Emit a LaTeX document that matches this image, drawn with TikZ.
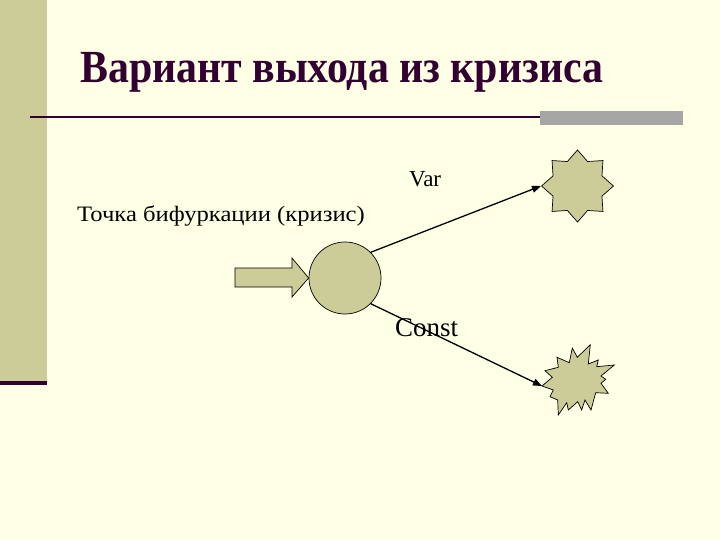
\documentclass[tikz,border=0pt]{standalone}
\usepackage{fontspec}
\setmainfont{Liberation Serif}
\newfontfamily\titlefont[FakeStretch=0.91]{Liberation Serif}
\newfontfamily\widefont[FakeStretch=1.12]{Liberation Serif}
\usetikzlibrary{shapes.geometric,arrows.meta}
\definecolor{slidebg}{RGB}{255,255,229}
\definecolor{khaki}{RGB}{204,204,153}
\definecolor{plum}{RGB}{51,0,51}
\definecolor{bargray}{RGB}{166,166,166}

\begin{document}
\begin{tikzpicture}[
  x=1pt, y=-1pt,
  solid shape/.style={fill=khaki, draw=black, line width=0.7pt},
  branch/.style={-{Triangle[length=9pt,width=7pt]}, line width=1.3pt},
  caption/.style={inner sep=0pt, anchor=base west},
]
  \useasboundingbox (0,0) rectangle (720,540);
  \fill[slidebg] (0,0) rectangle (720,540);

  % Left band
  \fill[khaki] (0,0) rectangle (47,381);
  \fill[plum] (0,381) rectangle (47,385);

  % Title and rule
  \node[caption, text=plum, font=\titlefont\bfseries\fontsize{46}{50}\selectfont]
    (title) at (80,83) {Вариант выхода из кризиса};
  \draw[plum, line width=2pt] (30,117) -- (540,117);
  \fill[bargray] (540,111) rectangle (683,125);

  % Crisis point
  \node[caption, font=\widefont\fontsize{22}{26}\selectfont]
    (bifurcation) at (77,222) {Точка бифуркации (кризис)};
  \node[solid shape, circle, minimum size=72pt, inner sep=0pt]
    (crisis) at (345,278) {};
  \draw[solid shape] (235,268) -- (292,268) -- (292,258) -- (crisis.west)
    -- (292,297) -- (292,287) -- (235,287) -- cycle;

  % Var outcome
  \node[solid shape, star, star points=8, star point ratio=1.36,
        minimum size=72pt, inner sep=0pt] (var) at (577.5,186) {};
  \node[caption, font=\fontsize{23}{27}\selectfont] (varlabel) at (409,187) {Var};
  \draw[branch] (crisis.45) -- (var.west);

  % Const outcome
  \coordinate (burst) at (542,386);
  \draw[solid shape] (burst) -- (552.3,377.3) -- (545,370.7) -- (558.3,367.3)
    -- (557,357.3) -- (569.3,362.7) -- (572.3,348) -- (577.3,357.3)
    -- (590.3,344.7) -- (588.3,364) -- (598.3,360) -- (596.7,366.7)
    -- (614.3,365) -- (601,376) -- (605.7,379.3) -- (601,383.3)
    -- (608.3,393.3) -- (595.7,392.7) -- (591,410) -- (585,400)
    -- (581.7,410) -- (577.7,401.7) -- (568.3,410) -- (566.7,402.7)
    -- (558.3,415) -- (557.7,400) -- (550,396.7) -- (553.3,390) -- cycle;
  \node[caption, font=\fontsize{27}{31}\selectfont] (constlabel) at (395,336) {Const};
  \draw[branch] (crisis.-45) -- (burst);
\end{tikzpicture}
\end{document}
